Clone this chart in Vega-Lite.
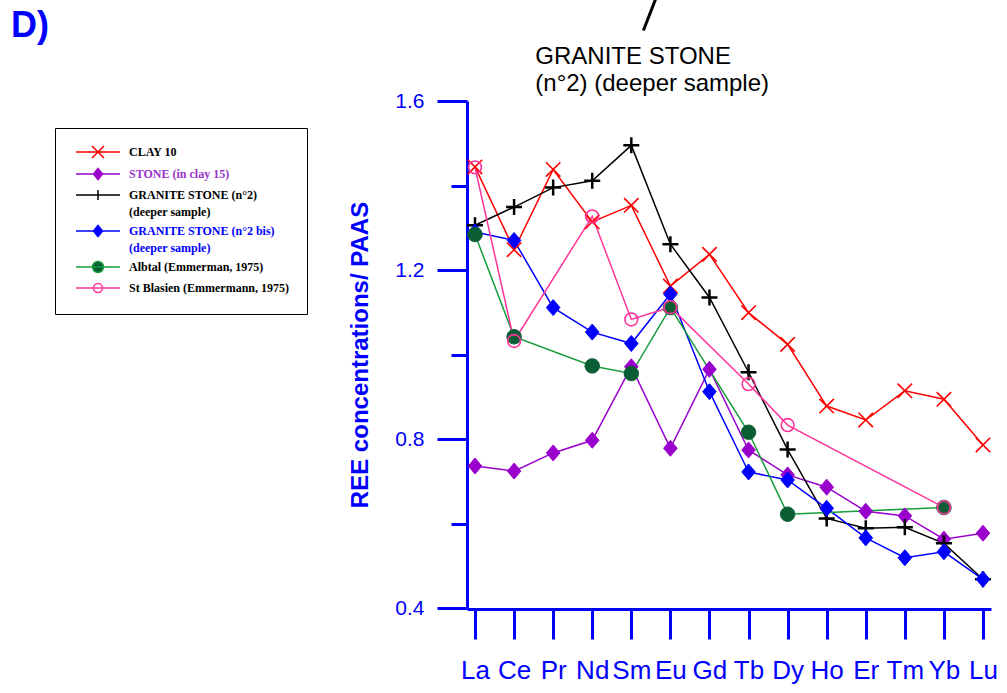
{
  "$schema": "https://vega.github.io/schema/vega-lite/v6.json",
  "width": 524,
  "height": 507,
  "autosize": {"type": "none"},
  "padding": {"left": 467, "top": 101, "right": 16, "bottom": 85},
  "background": "white",
  "title": {"text": "D)", "anchor": "start", "frame": "group", "font": "Liberation Sans", "fontSize": 36, "fontWeight": "bold", "color": "#0000ff", "baseline": "alphabetic", "dx": -456, "dy": 79},
  "data": {"values": [
    {"element": "La", "series": "CLAY 10", "value": 1.444},
    {"element": "Ce", "series": "CLAY 10", "value": 1.248},
    {"element": "Pr", "series": "CLAY 10", "value": 1.438},
    {"element": "Nd", "series": "CLAY 10", "value": 1.314},
    {"element": "Sm", "series": "CLAY 10", "value": 1.353},
    {"element": "Eu", "series": "CLAY 10", "value": 1.162},
    {"element": "Gd", "series": "CLAY 10", "value": 1.237},
    {"element": "Tb", "series": "CLAY 10", "value": 1.099},
    {"element": "Dy", "series": "CLAY 10", "value": 1.024},
    {"element": "Ho", "series": "CLAY 10", "value": 0.878},
    {"element": "Er", "series": "CLAY 10", "value": 0.845},
    {"element": "Tm", "series": "CLAY 10", "value": 0.914},
    {"element": "Yb", "series": "CLAY 10", "value": 0.894},
    {"element": "Lu", "series": "CLAY 10", "value": 0.786},
    {"element": "La", "series": "STONE (in clay 15)", "value": 0.736},
    {"element": "Ce", "series": "STONE (in clay 15)", "value": 0.724},
    {"element": "Pr", "series": "STONE (in clay 15)", "value": 0.767},
    {"element": "Nd", "series": "STONE (in clay 15)", "value": 0.797},
    {"element": "Sm", "series": "STONE (in clay 15)", "value": 0.971},
    {"element": "Eu", "series": "STONE (in clay 15)", "value": 0.778},
    {"element": "Gd", "series": "STONE (in clay 15)", "value": 0.965},
    {"element": "Tb", "series": "STONE (in clay 15)", "value": 0.774},
    {"element": "Dy", "series": "STONE (in clay 15)", "value": 0.715},
    {"element": "Ho", "series": "STONE (in clay 15)", "value": 0.686},
    {"element": "Er", "series": "STONE (in clay 15)", "value": 0.629},
    {"element": "Tm", "series": "STONE (in clay 15)", "value": 0.618},
    {"element": "Yb", "series": "STONE (in clay 15)", "value": 0.563},
    {"element": "Lu", "series": "STONE (in clay 15)", "value": 0.577},
    {"element": "La", "series": "GRANITE STONE (n°2) (deeper sample)", "value": 1.306},
    {"element": "Ce", "series": "GRANITE STONE (n°2) (deeper sample)", "value": 1.349},
    {"element": "Pr", "series": "GRANITE STONE (n°2) (deeper sample)", "value": 1.395},
    {"element": "Nd", "series": "GRANITE STONE (n°2) (deeper sample)", "value": 1.411},
    {"element": "Sm", "series": "GRANITE STONE (n°2) (deeper sample)", "value": 1.495},
    {"element": "Eu", "series": "GRANITE STONE (n°2) (deeper sample)", "value": 1.261},
    {"element": "Gd", "series": "GRANITE STONE (n°2) (deeper sample)", "value": 1.135},
    {"element": "Tb", "series": "GRANITE STONE (n°2) (deeper sample)", "value": 0.958},
    {"element": "Dy", "series": "GRANITE STONE (n°2) (deeper sample)", "value": 0.775},
    {"element": "Ho", "series": "GRANITE STONE (n°2) (deeper sample)", "value": 0.612},
    {"element": "Er", "series": "GRANITE STONE (n°2) (deeper sample)", "value": 0.589},
    {"element": "Tm", "series": "GRANITE STONE (n°2) (deeper sample)", "value": 0.591},
    {"element": "Yb", "series": "GRANITE STONE (n°2) (deeper sample)", "value": 0.553},
    {"element": "Lu", "series": "GRANITE STONE (n°2) (deeper sample)", "value": 0.468},
    {"element": "La", "series": "GRANITE STONE (n°2 bis) (deeper sample)", "value": 1.29},
    {"element": "Ce", "series": "GRANITE STONE (n°2 bis) (deeper sample)", "value": 1.27},
    {"element": "Pr", "series": "GRANITE STONE (n°2 bis) (deeper sample)", "value": 1.111},
    {"element": "Nd", "series": "GRANITE STONE (n°2 bis) (deeper sample)", "value": 1.053},
    {"element": "Sm", "series": "GRANITE STONE (n°2 bis) (deeper sample)", "value": 1.026},
    {"element": "Eu", "series": "GRANITE STONE (n°2 bis) (deeper sample)", "value": 1.143},
    {"element": "Gd", "series": "GRANITE STONE (n°2 bis) (deeper sample)", "value": 0.912},
    {"element": "Tb", "series": "GRANITE STONE (n°2 bis) (deeper sample)", "value": 0.722},
    {"element": "Dy", "series": "GRANITE STONE (n°2 bis) (deeper sample)", "value": 0.703},
    {"element": "Ho", "series": "GRANITE STONE (n°2 bis) (deeper sample)", "value": 0.636},
    {"element": "Er", "series": "GRANITE STONE (n°2 bis) (deeper sample)", "value": 0.566},
    {"element": "Tm", "series": "GRANITE STONE (n°2 bis) (deeper sample)", "value": 0.519},
    {"element": "Yb", "series": "GRANITE STONE (n°2 bis) (deeper sample)", "value": 0.533},
    {"element": "Lu", "series": "GRANITE STONE (n°2 bis) (deeper sample)", "value": 0.468},
    {"element": "La", "series": "Albtal (Emmerman, 1975)", "value": 1.284},
    {"element": "Ce", "series": "Albtal (Emmerman, 1975)", "value": 1.042},
    {"element": "Nd", "series": "Albtal (Emmerman, 1975)", "value": 0.973},
    {"element": "Sm", "series": "Albtal (Emmerman, 1975)", "value": 0.955},
    {"element": "Eu", "series": "Albtal (Emmerman, 1975)", "value": 1.111},
    {"element": "Tb", "series": "Albtal (Emmerman, 1975)", "value": 0.816},
    {"element": "Dy", "series": "Albtal (Emmerman, 1975)", "value": 0.622},
    {"element": "Yb", "series": "Albtal (Emmerman, 1975)", "value": 0.638},
    {"element": "La", "series": "St Blasien (Emmermann, 1975)", "value": 1.443},
    {"element": "Ce", "series": "St Blasien (Emmermann, 1975)", "value": 1.032},
    {"element": "Nd", "series": "St Blasien (Emmermann, 1975)", "value": 1.327},
    {"element": "Sm", "series": "St Blasien (Emmermann, 1975)", "value": 1.083},
    {"element": "Eu", "series": "St Blasien (Emmermann, 1975)", "value": 1.112},
    {"element": "Tb", "series": "St Blasien (Emmermann, 1975)", "value": 0.93},
    {"element": "Dy", "series": "St Blasien (Emmermann, 1975)", "value": 0.833},
    {"element": "Yb", "series": "St Blasien (Emmermann, 1975)", "value": 0.638}
  ]},
  "encoding": {
    "x": {
      "field": "element", "type": "ordinal",
      "scale": {"type": "point", "domain": ["La","Ce","Pr","Nd","Sm","Eu","Gd","Tb","Dy","Ho","Er","Tm","Yb","Lu"], "padding": 0.205},
      "axis": {"title": null, "orient": "bottom", "offset": 1, "domainColor": "#0000ff", "domainWidth": 3, "tickColor": "#0000ff", "tickWidth": 3, "tickSize": 30, "labelColor": "#0000ff", "labelFont": "Liberation Sans", "labelFontSize": 26, "labelPadding": 18, "labelAngle": 0, "labelBaseline": "top", "labelOverlap": false}
    }
  },
  "layer": [
    {
      "mark": {"type": "line", "strokeWidth": 1.5},
      "encoding": {
        "y": {"field": "value", "type": "quantitative",
          "scale": {"domain": [0.4, 1.6], "nice": false, "zero": false},
          "axis": {"title": "REE concentrations/ PAAS", "orient": "left", "values": [0.4, 0.8, 1.2, 1.6], "format": ".1f", "domainColor": "#0000ff", "domainWidth": 3, "tickColor": "#0000ff", "tickWidth": 3, "tickSize": 30, "labelColor": "#0000ff", "labelFont": "Liberation Sans", "labelFontSize": 21, "labelPadding": 13, "titleColor": "#0000ff", "titleFont": "Liberation Sans", "titleFontSize": 24, "titleFontWeight": "bold", "titlePadding": 22}
        },
        "color": {"field": "series", "type": "nominal",
          "scale": {"domain": ["CLAY 10", "STONE (in clay 15)", "GRANITE STONE (n°2) (deeper sample)", "GRANITE STONE (n°2 bis) (deeper sample)", "Albtal (Emmerman, 1975)", "St Blasien (Emmermann, 1975)"],
                    "range": ["#ff0000", "#9900cc", "#000000", "#0000ff", "#169c3c", "#ff3399"]},
          "legend": {
            "title": null, "orient": "none", "legendX": -412, "legendY": 27,
            "strokeColor": "black", "fillColor": "white", "padding": 18,
            "symbolSize": 100, "symbolStrokeWidth": 1.5,
            "labelFont": "Liberation Serif", "labelFontSize": 12, "labelFontWeight": "bold", "labelColor": "black",
            "labelOffset": 44, "labelLimit": 400, "rowPadding": 4,
            "labelExpr": "datum.label == 'GRANITE STONE (n°2) (deeper sample)' ? ['GRANITE STONE (n°2)', '(deeper sample)'] : datum.label == 'GRANITE STONE (n°2 bis) (deeper sample)' ? ['GRANITE STONE (n°2 bis)', '(deeper sample)'] : datum.label",
            "encode": {
              "symbols": {"update": {
                "shape": {"signal": "['M-0.6,0L8.2,0M2.6,-1.2L5,1.2M2.6,1.2L5,-1.2', 'M-0.6,0L8.2,0M3.8,-1.1L4.7,0L3.8,1.1L2.9,0Z', 'M-0.6,0L8.2,0M2.8,0L4.8,0M3.8,-1L3.8,1', 'M-0.6,0L8.2,0M3.8,-1.1L4.7,0L3.8,1.1L2.9,0Z', 'M-0.6,0L8.2,0M4.9,0A1.1,1.1,0,1,1,2.7,0A1.1,1.1,0,1,1,4.9,0Z', 'M-0.6,0L8.2,0M4.7,0A0.9,0.9,0,1,1,2.9,0A0.9,0.9,0,1,1,4.7,0Z'][indexof(['CLAY 10', 'STONE (in clay 15)', 'GRANITE STONE (n°2) (deeper sample)', 'GRANITE STONE (n°2 bis) (deeper sample)', 'Albtal (Emmerman, 1975)', 'St Blasien (Emmermann, 1975)'], datum.value)]"},
                "fill": {"signal": "['transparent', '#9900cc', 'transparent', '#0000ff', '#0b5e34', 'white'][indexof(['CLAY 10', 'STONE (in clay 15)', 'GRANITE STONE (n°2) (deeper sample)', 'GRANITE STONE (n°2 bis) (deeper sample)', 'Albtal (Emmerman, 1975)', 'St Blasien (Emmermann, 1975)'], datum.value)]"},
                "strokeWidth": {"value": 1.5},
                "opacity": {"value": 1}
              }},
              "labels": {"update": {
                "fill": {"signal": "datum.value == 'STONE (in clay 15)' ? '#9933cc' : datum.value == 'GRANITE STONE (n°2 bis) (deeper sample)' ? '#0000ff' : 'black'"},
                "lineHeight": {"value": 17}
              }}
            }
          }
        },
        "order": {"value": null}
      }
    },
    {
      "transform": [{"filter": "datum.series == 'CLAY 10'"}],
      "mark": {"type": "point", "shape": "M-0.9,-0.9L0.9,0.9M-0.9,0.9L0.9,-0.9", "size": 256, "filled": false, "stroke": "#ff0000", "strokeWidth": 1.6, "opacity": 1},
      "encoding": {
        "y": {"field": "value", "type": "quantitative",
          "axis": {"title": null, "orient": "left", "values": [0.6, 1.0, 1.4], "labels": false, "domain": false, "tickColor": "#0000ff", "tickWidth": 3, "tickSize": 16}}
      }
    },
    {
      "transform": [{"filter": "datum.series == 'STONE (in clay 15)'"}],
      "mark": {"type": "point", "shape": "M0,-1L0.85,0L0,1L-0.85,0Z", "size": 256, "filled": true, "fill": "#9900cc", "stroke": "#9900cc", "strokeWidth": 1, "opacity": 1},
      "encoding": {"y": {"field": "value", "type": "quantitative", "axis": null}}
    },
    {
      "transform": [{"filter": "datum.series == 'GRANITE STONE (n°2) (deeper sample)'"}],
      "mark": {"type": "point", "shape": "M-1,0L1,0M0,-1L0,1", "size": 256, "filled": false, "stroke": "#000000", "strokeWidth": 2.5, "opacity": 1},
      "encoding": {"y": {"field": "value", "type": "quantitative", "axis": null}}
    },
    {
      "transform": [{"filter": "datum.series == 'GRANITE STONE (n°2 bis) (deeper sample)'"}],
      "mark": {"type": "point", "shape": "M0,-1L0.85,0L0,1L-0.85,0Z", "size": 256, "filled": true, "fill": "#0000ff", "stroke": "#0000ff", "strokeWidth": 1, "opacity": 1},
      "encoding": {"y": {"field": "value", "type": "quantitative", "axis": null}}
    },
    {
      "transform": [{"filter": "datum.series == 'Albtal (Emmerman, 1975)'"}],
      "mark": {"type": "point", "shape": "M0.9,0A0.9,0.9,0,1,1,-0.9,0A0.9,0.9,0,1,1,0.9,0Z", "size": 256, "filled": true, "fill": "#0b5e34", "stroke": "#0b5e34", "strokeWidth": 1, "opacity": 1},
      "encoding": {"y": {"field": "value", "type": "quantitative", "axis": null}}
    },
    {
      "transform": [{"filter": "datum.series == 'St Blasien (Emmermann, 1975)'"}],
      "mark": {"type": "point", "shape": "M0.8,0A0.8,0.8,0,1,1,-0.8,0A0.8,0.8,0,1,1,0.8,0Z", "size": 256, "filled": false, "stroke": "#ff3399", "strokeWidth": 1.6, "opacity": 1},
      "encoding": {"y": {"field": "value", "type": "quantitative", "axis": null}}
    },
    {
      "data": {"values": [{}]},
      "mark": {"type": "rule", "stroke": "black", "strokeWidth": 3, "xOffset": -27, "x2Offset": -15},
      "encoding": {
        "x": {"datum": "Eu", "type": "ordinal"},
        "x2": {"datum": "Eu"},
        "y": {"datum": 1.767, "type": "quantitative", "axis": null},
        "y2": {"datum": 1.84}
      }
    },
    {
      "data": {"values": [{}]},
      "mark": {"type": "text", "text": ["GRANITE STONE", "(n°2) (deeper sample)"], "font": "Liberation Sans", "fontSize": 24, "align": "left", "baseline": "alphabetic", "lineHeight": 27, "dx": -96, "color": "black"},
      "encoding": {
        "x": {"datum": "Sm", "type": "ordinal"},
        "y": {"datum": 1.687, "type": "quantitative", "axis": null}
      }
    }
  ],
  "resolve": {"axis": {"y": "independent"}},
  "config": {"view": {"stroke": null}, "axis": {"grid": false}}
}
